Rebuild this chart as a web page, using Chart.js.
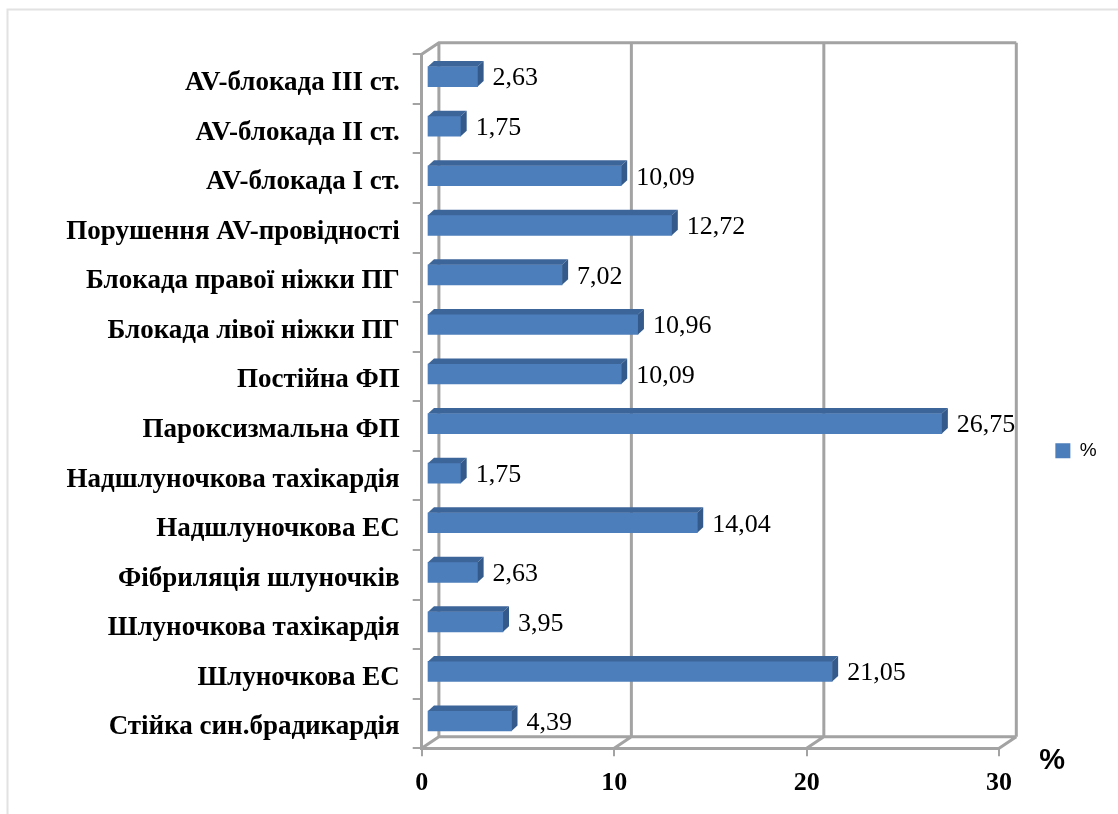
<!DOCTYPE html>
<html>
<head>
<meta charset="utf-8">
<style>
  html, body { margin: 0; padding: 0; background: #fff; }
  #wrap { width: 1118px; height: 814px; }
</style>
<script src="https://cdn.jsdelivr.net/npm/chart.js@4/dist/chart.umd.min.js"></script>
</head>
<body>
<div id="wrap"><canvas id="chart" width="1118" height="814"></canvas></div>
<script>
const categories = [
  'AV-блокада III ст.', 'AV-блокада II ст.', 'AV-блокада I ст.', 'Порушення AV-провідності',
  'Блокада правої ніжки ПГ', 'Блокада лівої ніжки ПГ', 'Постійна ФП', 'Пароксизмальна ФП',
  'Надшлуночкова тахікардія', 'Надшлуночкова ЕС', 'Фібриляція шлуночків', 'Шлуночкова тахікардія',
  'Шлуночкова ЕС', 'Стійка син.брадикардія'
];
const values = [2.63, 1.75, 10.09, 12.72, 7.02, 10.96, 10.09, 26.75, 1.75, 14.04, 2.63, 3.95, 21.05, 4.39];
const seriesName = '%';
const axisTitle = '%';
const xTicks = [0, 10, 20, 30];

const AXIS_GREY = '#a3a3a3';
const BAR_FRONT = '#4c7ebb';
const BAR_TOP = '#3c659a';
const BAR_SIDE = '#335a8a';
// shift of the bars and of the back wall against the front axes
const BAR_SHIFT = { x: 5.3, y: -2.5 };
const WALL_SHIFT = { x: 17.2, y: -11.6 };
const DEPTH = { x: 6, y: 5.5 };

const backgroundFrame = {
  id: 'backgroundFrame',
  // legend is centred on the whole height in the original, not below the top padding
  afterLayout(chart) {
    chart.legend.top += 16.5;
    chart.legend.bottom += 16.5;
  },
  beforeDraw(chart) {
    const { ctx } = chart;
    ctx.save();
    ctx.strokeStyle = '#e2e2e2';
    ctx.lineWidth = 2;
    ctx.beginPath();
    ctx.moveTo(7.5, 814);
    ctx.lineTo(7.5, 9.5);
    ctx.lineTo(1118, 9.5);
    ctx.stroke();
    ctx.restore();
  }
};

const backWall = {
  id: 'backWall',
  beforeDatasetsDraw(chart) {
    const { ctx, chartArea: area, scales: { x } } = chart;
    const top = area.top + WALL_SHIFT.y;
    const bottom = area.bottom + WALL_SHIFT.y;
    ctx.save();
    ctx.strokeStyle = AXIS_GREY;
    ctx.lineWidth = 3;
    ctx.beginPath();
    xTicks.forEach(v => {
      const front = x.getPixelForValue(v);
      ctx.moveTo(front + WALL_SHIFT.x, top);
      ctx.lineTo(front + WALL_SHIFT.x, bottom);
      ctx.moveTo(front, area.bottom);
      ctx.lineTo(front + WALL_SHIFT.x, bottom);
    });
    ctx.moveTo(area.left, area.top);
    ctx.lineTo(area.left + WALL_SHIFT.x, top);
    ctx.lineTo(area.right + WALL_SHIFT.x, top);
    ctx.moveTo(area.left + WALL_SHIFT.x, bottom);
    ctx.lineTo(area.right + WALL_SHIFT.x, bottom);
    ctx.stroke();
    ctx.restore();

    // bars sit a little inside the box
    ctx.save();
    ctx.translate(BAR_SHIFT.x, BAR_SHIFT.y);
  },
  afterDatasetsDraw(chart) {
    const { ctx } = chart;
    const bars = chart.getDatasetMeta(0).data;
    bars.forEach((bar, i) => {
      const top = bar.y - bar.height / 2;
      const bottom = bar.y + bar.height / 2;
      ctx.fillStyle = BAR_TOP;
      ctx.beginPath();
      ctx.moveTo(bar.base, top);
      ctx.lineTo(bar.base + DEPTH.x, top - DEPTH.y);
      ctx.lineTo(bar.x + DEPTH.x, top - DEPTH.y);
      ctx.lineTo(bar.x, top);
      ctx.closePath();
      ctx.fill();
      ctx.fillStyle = BAR_SIDE;
      ctx.beginPath();
      ctx.moveTo(bar.x, top);
      ctx.lineTo(bar.x + DEPTH.x, top - DEPTH.y);
      ctx.lineTo(bar.x + DEPTH.x, bottom - DEPTH.y);
      ctx.lineTo(bar.x, bottom);
      ctx.closePath();
      ctx.fill();

      ctx.fillStyle = '#000';
      ctx.font = '26px "Liberation Serif"';
      ctx.textAlign = 'left';
      ctx.textBaseline = 'middle';
      ctx.fillText(String(values[i]).replace('.', ','), bar.x + 15, bar.y + 2);
    });
    ctx.restore();

    const { right, bottom } = chart.chartArea;
    ctx.save();
    ctx.fillStyle = '#000';
    ctx.font = 'bold 29px "Liberation Sans"';
    ctx.textAlign = 'center';
    ctx.textBaseline = 'middle';
    ctx.fillText(axisTitle, right + 53, bottom + 13);
    ctx.restore();
  }
};

new Chart(document.getElementById('chart'), {
  type: 'bar',
  data: {
    labels: categories,
    datasets: [{
      label: seriesName,
      data: values,
      backgroundColor: BAR_FRONT,
      borderWidth: 0,
      barThickness: 20
    }]
  },
  options: {
    indexAxis: 'y',
    responsive: false,
    animation: false,
    layout: { padding: { top: 54.3, right: 11.25, bottom: 0, left: 0 } },
    plugins: {
      tooltip: { enabled: false },
      legend: {
        position: 'right',
        labels: {
          boxWidth: 15,
          boxHeight: 15,
          padding: 56.25,
          color: '#000',
          font: { family: '"Liberation Sans"', size: 19 }
        }
      }
    },
    scales: {
      x: {
        type: 'linear',
        min: 0,
        max: 30,
        afterFit: s => { s.height = 65.7; },
        afterBuildTicks: s => { s.ticks = xTicks.map(value => ({ value })); },
        grid: { drawOnChartArea: false, color: AXIS_GREY, lineWidth: 2, tickLength: 8 },
        border: { color: AXIS_GREY, width: 3 },
        ticks: {
          color: '#000',
          padding: 11,
          maxRotation: 0,
          font: { family: '"Liberation Serif"', size: 26, weight: 'bold' }
        }
      },
      y: {
        afterFit: s => { s.width = 421.7; },
        grid: { drawOnChartArea: false, color: AXIS_GREY, lineWidth: 2, tickLength: 9 },
        border: { color: AXIS_GREY, width: 3 },
        ticks: {
          color: '#000',
          padding: 13,
          autoSkip: false,
          labelOffset: 4,
          font: { family: '"Liberation Serif"', size: 27, weight: 'bold' }
        }
      }
    }
  },
  plugins: [backgroundFrame, backWall]
});
</script>
</body>
</html>
